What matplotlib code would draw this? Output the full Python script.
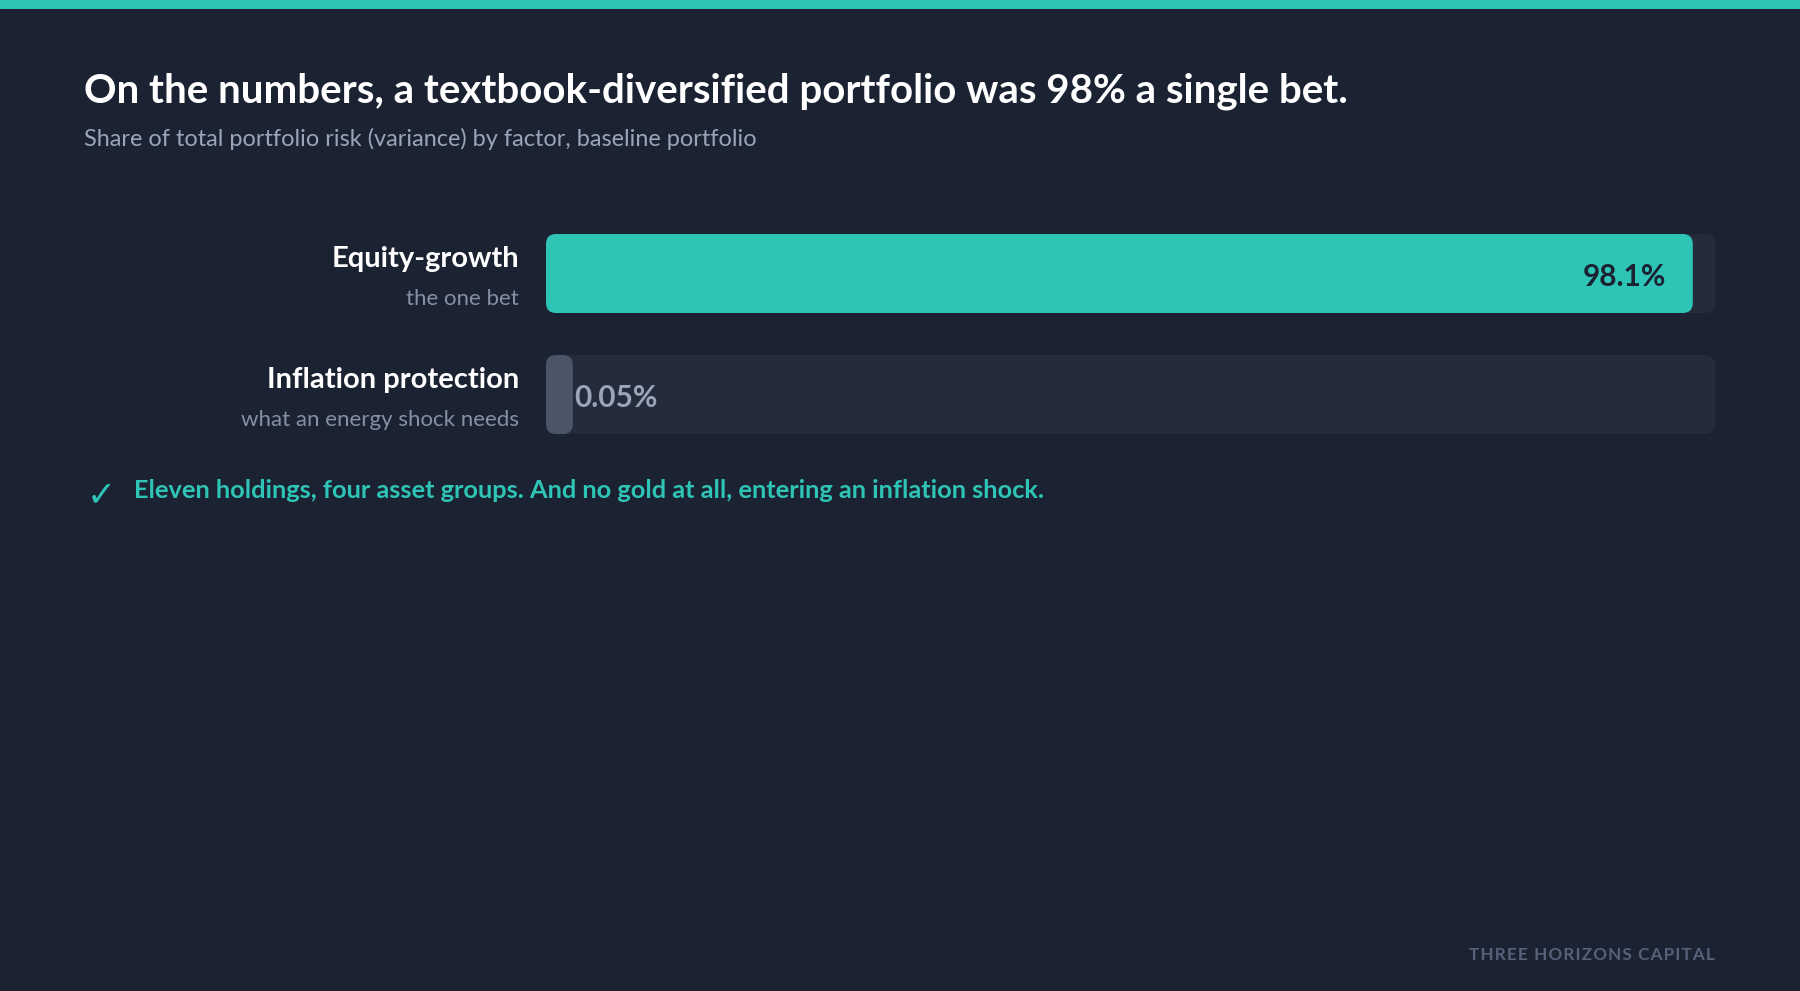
import matplotlib.pyplot as plt
from matplotlib.patches import FancyBboxPatch, Rectangle

# data
factors = ["Equity-growth", "Inflation protection"]
notes = ["the one bet", "what an energy shock needs"]
shares = [98.1, 0.05]
share_labels = ["98.1%", "0.05%"]

title = "On the numbers, a textbook-diversified portfolio was 98% a single bet."
subtitle = "Share of total portfolio risk (variance) by factor, baseline portfolio"
footnote = "Eleven holdings, four asset groups. And no gold at all, entering an inflation shock."
brand = "THREE HORIZONS CAPITAL"

BG = "#1b2333"
TRACK = "#242c3b"
TEAL = "#2ec4b6"
SMALL = "#4a5568"
FONT = ["Lato", "DejaVu Sans"]

W, H = 1800, 991
fig = plt.figure(figsize=(W / 100, H / 100), dpi=100, facecolor=BG)

def fx(px):
    return px / W

def fy(py):
    return 1 - py / H

# top stripe
fig.patches.append(Rectangle((0, fy(9)), 1, 9 / H, transform=fig.transFigure,
                             facecolor=TEAL, edgecolor="none"))

fig.text(fx(84), fy(91), title, color="white", fontsize=29, fontweight="bold",
         family=FONT, va="center", ha="left")
fig.text(fx(84), fy(139), subtitle, color="#9aa5b8", fontsize=16.9,
         family=FONT, va="center", ha="left")

# bar area
bar_h = 79 / 121
ax_top, ax_bot = 234, 434
ax = fig.add_axes([fx(546), fy(ax_bot), fx(1715) - fx(546), (ax_bot - ax_top) / H])
ax.set_xlim(0, 100)
ax.set_ylim(len(factors) - 1 + bar_h / 2, -bar_h / 2)
ax.axis("off")
ax.patch.set_alpha(0)

px_x = 1169 / 100
px_y = 121
r = 10 / px_x
aspect = px_x / px_y
min_w = 2.3

for i, (v, lab) in enumerate(zip(shares, share_labels)):
    ax.add_patch(FancyBboxPatch((0, i - bar_h / 2), 100, bar_h,
                                boxstyle=f"round,pad=0,rounding_size={r}",
                                mutation_aspect=aspect, facecolor=TRACK,
                                edgecolor="none"))
    big = v > 10
    w = max(v, min_w)
    ax.add_patch(FancyBboxPatch((0, i - bar_h / 2), w, bar_h,
                                boxstyle=f"round,pad=0,rounding_size={r}",
                                mutation_aspect=aspect,
                                facecolor=TEAL if big else SMALL,
                                edgecolor="none"))
    if big:
        ax.annotate(lab, (w, i), xytext=(-27, -3), textcoords="offset pixels",
                    ha="right", va="center", fontsize=21.5, fontweight="bold",
                    color="#1b2333", family=FONT)
    else:
        ax.annotate(lab, (w, i), xytext=(1, -3), textcoords="offset pixels",
                    ha="left", va="center", fontsize=21.5, fontweight="bold",
                    color="#9aa5b8", family=FONT)
    ax.annotate(factors[i], (0, i), xytext=(-27, 15), textcoords="offset pixels",
                ha="right", va="center", fontsize=21, fontweight="bold",
                color="white", family=FONT, annotation_clip=False)
    ax.annotate(notes[i], (0, i), xytext=(-27, -25.5), textcoords="offset pixels",
                ha="right", va="center", fontsize=16, color="#8590a3",
                family=FONT, annotation_clip=False)

# footnote with check mark
fig.text(fx(87), fy(495), "\u2713", color=TEAL, fontsize=25, fontweight="bold",
         family="DejaVu Sans", va="center", ha="left")
fig.text(fx(134), fy(491), footnote, color=TEAL, fontsize=18.3, fontweight="bold",
         family=FONT, va="center", ha="left")

fig.text(fx(1715), fy(955), "\u200a".join(brand), color="#56627a", fontsize=12.3,
         fontweight="bold", family=FONT, va="center", ha="right")

fig.savefig("out.png", dpi=100, facecolor=BG)
